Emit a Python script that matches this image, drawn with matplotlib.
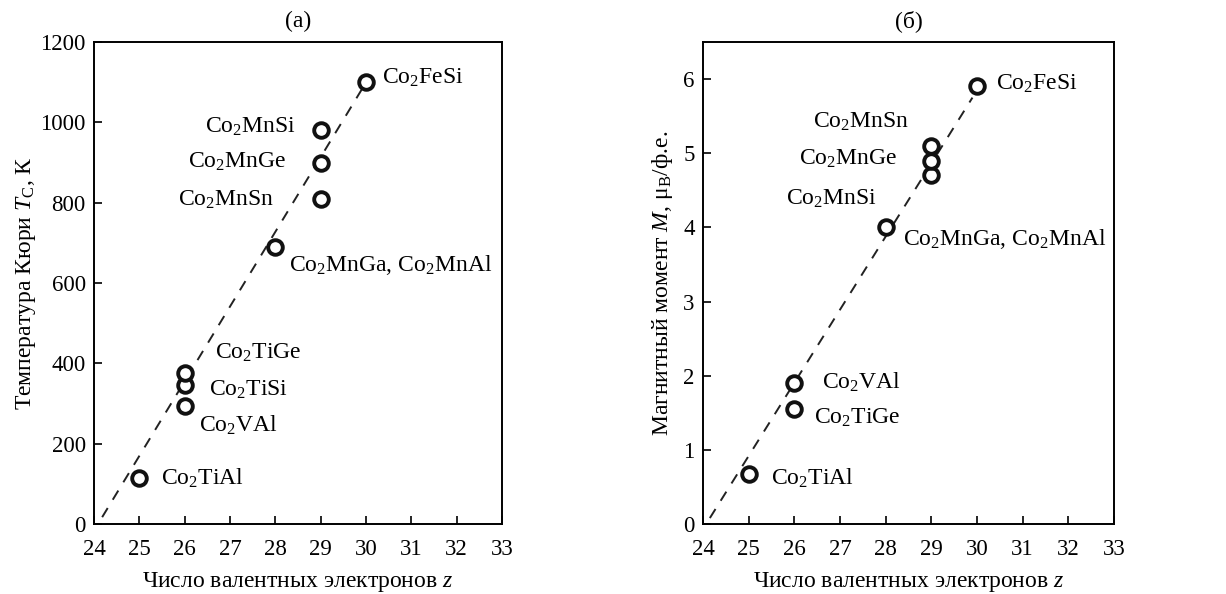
import matplotlib
matplotlib.use("Agg")
import matplotlib.pyplot as plt

plt.rcParams['font.family'] = ['Liberation Serif', 'DejaVu Serif']
plt.rcParams['mathtext.fontset'] = 'custom'
plt.rcParams['mathtext.rm'] = 'Liberation Serif'
plt.rcParams['mathtext.it'] = 'Liberation Serif:italic'

# (a) Curie temperature
z_a = [25, 26, 26, 26, 28, 29, 29, 29, 30]
tc = [115, 295, 345, 375, 690, 808, 900, 980, 1100]
names_a = ["Co$_2$TiAl", "Co$_2$VAl", "Co$_2$TiSi", "Co$_2$TiGe", "Co$_2$MnGa, Co$_2$MnAl",
           "Co$_2$MnSn", "Co$_2$MnGe", "Co$_2$MnSi", "Co$_2$FeSi"]
lab_a_x = [25.48, 26.32, 26.54, 26.67, 28.31, 27.97, 28.24, 28.44, 30.35]
lab_a_y = [114, 246, 334, 426, 645, 807, 901, 988, 1110]
lab_a_ha = ['left', 'left', 'left', 'left', 'left', 'right', 'right', 'right', 'left']
fit_a_z = [24.18, 29.95]
fit_a_t = [17, 1090]

# (б) magnetic moment
z_b = [25, 26, 26, 28, 29, 29, 29, 30]
mm = [0.68, 1.55, 1.9, 4.0, 4.7, 4.9, 5.1, 5.9]
names_b = ["Co$_2$TiAl", "Co$_2$TiGe", "Co$_2$VAl", "Co$_2$MnGa, Co$_2$MnAl",
           "Co$_2$MnSi", "Co$_2$MnGe", "Co$_2$MnSn", "Co$_2$FeSi"]
lab_b_x = [25.49, 26.43, 26.6, 28.38, 27.8, 28.25, 28.51, 30.41]
lab_b_y = [0.61, 1.43, 1.91, 3.85, 4.39, 4.92, 5.42, 5.94]
lab_b_ha = ['left', 'left', 'left', 'left', 'right', 'right', 'right', 'left']
fit_b_z = [24.15, 29.9]
fit_b_m = [0.08, 5.75]

xticks = list(range(24, 34))
FS = 17

fig = plt.figure(figsize=(12.26, 5.94), dpi=100)
ax1 = fig.add_axes([94 / 1226, 70 / 594, 408 / 1226, 482 / 594])
ax2 = fig.add_axes([703 / 1226, 70 / 594, 411 / 1226, 482 / 594])

def panel(ax, z, v, names, lx, ly, ha, fz, fv):
    ax.plot(fz, fv, color='#222222', lw=1.4, dashes=(5.5, 5), zorder=1)
    ax.plot(z, v, 'o', mfc='white', mec='#111111', ms=10.5, mew=2.8, zorder=2)
    for n, x, y, h in zip(names, lx, ly, ha):
        ax.text(x, y, n, ha=h, va='center', fontsize=FS)
    ax.set_xlim(24, 33)
    ax.set_xticks(xticks)
    ax.tick_params(direction='in', length=6, width=1.2, labelsize=16.5)
    ax.tick_params(axis='x', pad=11)
    ax.tick_params(axis='y', pad=6)
    for s in ax.spines.values():
        s.set_linewidth(1.4)
    ax.set_xlabel("Число валентных электронов $z$", fontsize=FS, labelpad=7)

panel(ax1, z_a, tc, names_a, lab_a_x, lab_a_y, lab_a_ha, fit_a_z, fit_a_t)
ax1.set_ylim(0, 1200)
ax1.set_yticks(range(0, 1201, 200))
ax1.set_ylabel("Температура Кюри $T_\\mathrm{C}$, К", fontsize=FS, labelpad=2)
ax1.set_title("(a)", fontsize=FS, pad=11)

panel(ax2, z_b, mm, names_b, lab_b_x, lab_b_y, lab_b_ha, fit_b_z, fit_b_m)
ax2.set_ylim(0, 6.5)
ax2.set_yticks(range(0, 7))
ax2.set_ylabel("Магнитный момент $M$, μ$_\\mathrm{B}$/ф.е.", fontsize=FS, labelpad=6)
ax2.set_title("(б)", fontsize=FS, pad=11)

fig.savefig("out.png", dpi=100)
